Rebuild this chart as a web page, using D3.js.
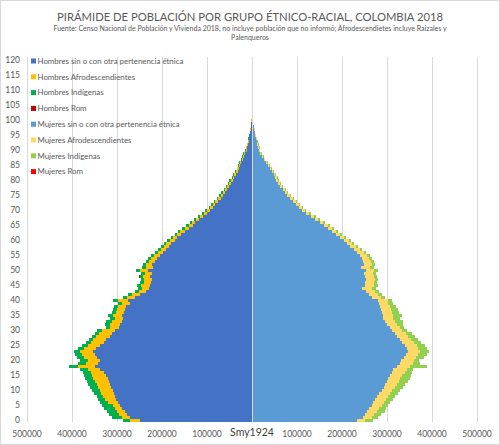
<!DOCTYPE html>
<html lang="es">
<head>
<meta charset="UTF-8">
<title>Pirámide de población por grupo étnico-racial, Colombia 2018</title>
<script src="https://cdn.jsdelivr.net/npm/d3@7"></script>
<style>
  body { margin: 0; background: #fff; }
  svg { display: block; font-family: Lato, "Open Sans", sans-serif; }
</style>
</head>
<body>
<svg id="chart" width="500" height="445"></svg>
<script>
// edades simples 0..120
var edades = d3.range(0, 121);

// valores en miles de personas (edad 0 .. 120)
var hombresSin = [249,271,278,282,289,293,298,302,304,307, 309,313,316,318,320,324,329,338,349,342,
  338,344,349,353,347,338,329,324,316,311, 304,296,293,289,287,289,284,282,280,271,
  276,260,249,236,229,227,224,222,227,222, 231,220,222,216,211,204,198,191,184,180,
  171,166,157,150,141,132,127,118,109,100, 93,87,82,76,69,64,61,55,51,46,
  43,39,36,32,29,26,24,20,17.5,15, 12,11,8.9,7.1,5.6,4.0,3.8,2.7,1.6,1.3,
  1.0,0.6,0.45,0.35,0.25,0.2,0.15,0.12,0.1,0.08, 0.08,0.06,0.05,0.05,0.04,0.04,0.03,0.03,0.03,0.03, 0.05];
var hombresAfro = [22,18,18,18,16,16,22,24,27,29, 29,29,29,31,33,31,29,27,38,27,
  27,29,29,29,27,27,29,29,31,29, 29,20,22,22,18,20,18,18,18,18,
  22,18,18,16,16,20,16,18,16,16, 18,16,13,13,13,13,11,11,11,11,
  11,9,9,9,9,9,6.7,6.7,6.7,6.7, 6.7,5.5,5.5,5.5,5.5,5.5,4.4,4.4,4.4,4.4,
  4.4,3.3,3.3,3.3,3.3,3.3,2.4,2.4,2.4,2.4, 2.4,1.3,1.3,1.3,1.3,1.3,0.7,0.7,0.5,0.3,
  0.2,0.1,0.08,0.06,0.05,0.04,0.03,0.03,0.02,0.02, 0.02,0.02,0.01,0.01,0.01,0.01,0.01,0.01,0.01,0.01, 0.01];
var hombresInd = [16,22,22,22,24,24,18,16,13,16, 18,18,20,18,18,18,18,18,20,18,
  18,16,16,13,13,13,11,9,9,9, 11,9,11,13,11,11,9,9,9,9,
  11,9,9,9,9,9,9,7,7,9, 9,9,7,7,7,7,7,7,7,4.4,
  7,5.5,5.5,5.5,5.5,5.5,4.4,4.4,4.4,4.4, 4.4,3.3,3.3,3.3,3.3,3.3,2.7,2.7,2.7,2.7,
  2.7,2,2,2,2,2,1.6,1.6,1.6,1.6, 1.6,0.9,0.9,0.9,0.9,0.9,0.4,0.4,0.3,0.2,
  0.1,0.08,0.06,0.05,0.04,0.03,0.03,0.02,0.02,0.02, 0.01,0.01,0.01,0.01,0.01,0.01,0.01,0.01,0.01,0.01, 0.01];
var hombresRom = [0.02,0.02,0.02,0.02,0.02,0.02,0.02,0.02,0.02,0.02, 0.02,0.02,0.02,0.02,0.02,0.02,0.02,0.02,0.03,0.02,
  0.02,0.02,0.02,0.02,0.02,0.02,0.02,0.02,0.02,0.02, 0.02,0.02,0.02,0.02,0.02,0.02,0.02,0.02,0.02,0.02,
  0.02,0.02,0.02,0.02,0.02,0.02,0.02,0.02,0.02,0.02, 0.02,0.01,0.01,0.01,0.01,0.01,0.01,0.01,0.01,0.01,
  0.01,0.01,0.01,0.01,0.01,0.01,0.01,0.01,0.01,0.01, 0.01,0.01,0.01,0.01,0.01,0.01,0.01,0.01,0.01,0.01,
  0.01,0,0,0,0,0,0,0,0,0, 0,0,0,0,0,0,0,0,0,0,
  0,0,0,0,0,0,0,0,0,0, 0,0,0,0,0,0,0,0,0,0, 0];
var mujeresSin = [233,247,251,256,260,267,269,273,278,282, 289,293,296,300,302,307,311,313,322,329,
  331,338,342,347,344,340,333,329,322,318, 311,307,300,296,291,291,289,287,284,282,
  280,267,260,253,244,251,251,253,251,249, 253,242,249,247,244,240,233,227,218,211,
  204,196,187,178,169,160,152,141,132,121, 110,105,98,92,85,78,73,69,63,58,
  53,52,48,44,39,35,31,26,22,18, 15,14.4,12.2,10.4,8.9,7.1,6.3,4.8,3.4,2.3,
  1.5,1.0,0.75,0.55,0.4,0.3,0.22,0.17,0.13,0.1, 0.1,0.08,0.06,0.05,0.05,0.04,0.04,0.03,0.03,0.03, 0.06];
var mujeresAfro = [18,20,20,22,22,22,24,24,24,24, 22,24,27,27,27,27,29,31,29,29,
  29,27,27,27,24,27,27,24,24,24, 22,22,22,22,22,22,22,22,22,20,
  22,20,20,20,22,20,20,20,20,20, 18,20,18,18,16,15.6,15.6,13.3,13.3,11,
  11,8.9,8.9,8.9,8.9,8.9,6.7,6.7,6.7,6.7, 6.7,5.6,5.6,5.6,5.6,5.6,4.4,4.4,4.4,4.4,
  4.4,3.3,3.3,3.3,3.3,3.3,2.4,2.4,2.4,2.4, 2.4,1.6,1.6,1.6,1.6,1.6,0.8,0.8,0.8,0.7,
  0.6,0.3,0.2,0.15,0.1,0.08,0.06,0.05,0.04,0.03, 0.03,0.02,0.02,0.02,0.01,0.01,0.01,0.01,0.01,0.01, 0.01];
var mujeresInd = [18,13,16,18,16,13,13,16,16,18, 18,18,18,20,22,20,16,13,38,16,
  11,18,20,20,20,18,16,16,16,13, 11,9,13,18,16,20,16,16,13,11,
  9,9,9,9,9,9,7,7,7,7, 9,9,7,7,7,6.7,4.4,4.4,4.4,4.4,
  4.4,4.4,4.4,4.4,4.4,4.4,3.3,3.3,3.3,3.3, 3.3,2.7,2.7,2.7,2.7,2.7,2.2,2.2,2.2,2.2,
  2.2,1.8,1.8,1.8,1.8,1.8,1.3,1.3,1.3,1.3, 1.3,0.8,0.8,0.8,0.8,0.8,0.4,0.4,0.4,0.3,
  0.3,0.2,0.15,0.1,0.08,0.06,0.05,0.04,0.03,0.03, 0.02,0.02,0.02,0.01,0.01,0.01,0.01,0.01,0.01,0.01, 0.01];
var mujeresRom = [0.02,0.02,0.02,0.02,0.02,0.02,0.02,0.02,0.02,0.02, 0.02,0.02,0.02,0.02,0.02,0.02,0.02,0.02,0.03,0.02,
  0.02,0.02,0.02,0.02,0.02,0.02,0.02,0.02,0.02,0.02, 0.02,0.02,0.02,0.02,0.02,0.02,0.02,0.02,0.02,0.02,
  0.02,0.02,0.02,0.02,0.02,0.02,0.02,0.02,0.02,0.02, 0.02,0.01,0.01,0.01,0.01,0.01,0.01,0.01,0.01,0.01,
  0.01,0.01,0.01,0.01,0.01,0.01,0.01,0.01,0.01,0.01, 0.01,0.01,0.01,0.01,0.01,0.01,0.01,0.01,0.01,0.01,
  0.01,0.01,0,0,0,0,0,0,0,0, 0,0,0,0,0,0,0,0,0,0,
  0,0,0,0,0,0,0,0,0,0, 0,0,0,0,0,0,0,0,0,0, 0];

var series = ["Hombres sin o con otra pertenencia étnica", "Hombres Afrodescendientes", "Hombres Indígenas", "Hombres Rom",
  "Mujeres sin o con otra pertenencia étnica", "Mujeres Afrodescendientes", "Mujeres Indígenas", "Mujeres Rom"];
var colores = ["#4472C4", "#FFC000", "#00B050", "#C00000", "#5B9BD5", "#FFD966", "#92D050", "#FF0000"];
var ticksX = [-500000, -400000, -300000, -200000, -100000, 0, 100000, 200000, 300000, 400000, 500000];
var ticksEdad = [0, 5, 10, 15, 20, 25, 30, 35, 40, 45, 50, 55, 60, 65, 70, 75, 80, 85, 90, 95, 100, 105, 110, 115, 120];

var titulo = "PIRÁMIDE DE POBLACIÓN POR GRUPO ÉTNICO-RACIAL, COLOMBIA 2018";
var fuente1 = "Fuente: Censo Nacional de Población y Vivienda 2018, no incluye población que no informó; Afrodescendietes incluye Raizales y";
var fuente2 = "Palenqueros";
var firma = "Smy1924";

var datos = [hombresSin, hombresAfro, hombresInd, hombresRom, mujeresSin, mujeresAfro, mujeresInd, mujeresRom];

// hombres a la izquierda (negativos)
var rows = edades.map(function(e, i) {
  var r = { edad: e };
  series.forEach(function(s, k) {
    r[s] = (k < 4 ? -1 : 1) * datos[k][i] * 1000;
  });
  return r;
});

var stacked = d3.stack().keys(series).offset(d3.stackOffsetDiverging)(rows);

var svg = d3.select("#chart");
var gris = "#595959";

var x = d3.scaleLinear().domain([-500000, 500000]).range([27, 477]);
var y = d3.scaleBand().domain(edades).range([422, 59]).padding(0);

svg.append("rect")
  .attr("x", 0.5).attr("y", 0.5).attr("width", 499).attr("height", 444)
  .attr("fill", "#fff").attr("stroke", "#d9d9d9");

// gridlines
svg.append("g").selectAll("line")
  .data(ticksX.filter(function(t) { return t !== 0; }))
  .enter().append("line")
    .attr("x1", function(d) { return Math.round(x(d)) + 0.5; })
    .attr("x2", function(d) { return Math.round(x(d)) + 0.5; })
    .attr("y1", 57).attr("y2", 422)
    .attr("stroke", "#d9d9d9").attr("stroke-width", 1);

// barras
svg.append("g").selectAll("g")
  .data(stacked)
  .enter().append("g")
    .attr("fill", function(d, i) { return colores[i]; })
  .selectAll("rect")
  .data(function(d) { return d; })
  .enter().append("rect")
    .attr("shape-rendering", "crispEdges")
    .attr("x", function(d) { return x(Math.min(d[0], d[1])); })
    .attr("width", function(d) { return Math.abs(x(d[1]) - x(d[0])); })
    .attr("y", function(d) { return y(d.data.edad); })
    .attr("height", y.bandwidth());

// eje vertical en cero
svg.append("line")
  .attr("x1", Math.round(x(0)) + 0.5).attr("x2", Math.round(x(0)) + 0.5)
  .attr("y1", 57).attr("y2", 422)
  .attr("stroke", "#d9d9d9");

// etiquetas de edad
svg.append("g").selectAll("text")
  .data(ticksEdad)
  .enter().append("text")
    .attr("x", 20)
    .attr("y", function(d) { return y(d) + y.bandwidth() / 2; })
    .attr("dy", "0.35em")
    .attr("text-anchor", "end")
    .attr("font-size", 8.5)
    .attr("fill", gris)
    .text(function(d) { return d; });

// etiquetas del eje x
svg.append("g").selectAll("text")
  .data(ticksX)
  .enter().append("text")
    .attr("x", function(d) { return x(d); })
    .attr("y", function(d) { return d === 0 ? 436 : 436.5; })
    .attr("text-anchor", "middle")
    .attr("font-size", function(d) { return d === 0 ? 10.5 : 8.5; })
    .attr("fill", function(d) { return d === 0 ? "#404040" : gris; })
    .text(function(d) { return d === 0 ? firma : Math.abs(d); });

function ajustar(sel, ancho) {
  var fs = parseFloat(sel.attr("font-size"));
  var w = sel.node().getComputedTextLength();
  sel.attr("font-size", (fs * ancho / w).toFixed(2));
}

var t = svg.append("text")
  .attr("x", 250).attr("y", 20.5)
  .attr("text-anchor", "middle")
  .attr("font-size", 14)
  .attr("fill", gris)
  .text(titulo);
ajustar(t, 386);

var s1 = svg.append("text")
  .attr("x", 250).attr("y", 30.5)
  .attr("text-anchor", "middle")
  .attr("font-size", 8)
  .attr("fill", gris)
  .text(fuente1);
ajustar(s1, 394);
svg.append("text")
  .attr("x", 250).attr("y", 39.5)
  .attr("text-anchor", "middle")
  .attr("font-size", s1.attr("font-size"))
  .attr("fill", gris)
  .text(fuente2);

// leyenda
var ley = svg.append("g").selectAll("g")
  .data(series)
  .enter().append("g")
    .attr("transform", function(d, i) { return "translate(31," + (61 + i * 15.8) + ")"; });
ley.append("rect")
  .attr("x", 0).attr("y", -2.5).attr("width", 5).attr("height", 5)
  .attr("fill", function(d, i) { return colores[i]; });
var leyTxt = ley.append("text")
  .attr("x", 6.5).attr("dy", "0.35em")
  .attr("font-size", 9)
  .attr("fill", gris)
  .text(function(d) { return d; });
var l0 = d3.select(leyTxt.nodes()[0]);
ajustar(l0, 146);
leyTxt.attr("font-size", l0.attr("font-size"));
</script>
</body>
</html>
